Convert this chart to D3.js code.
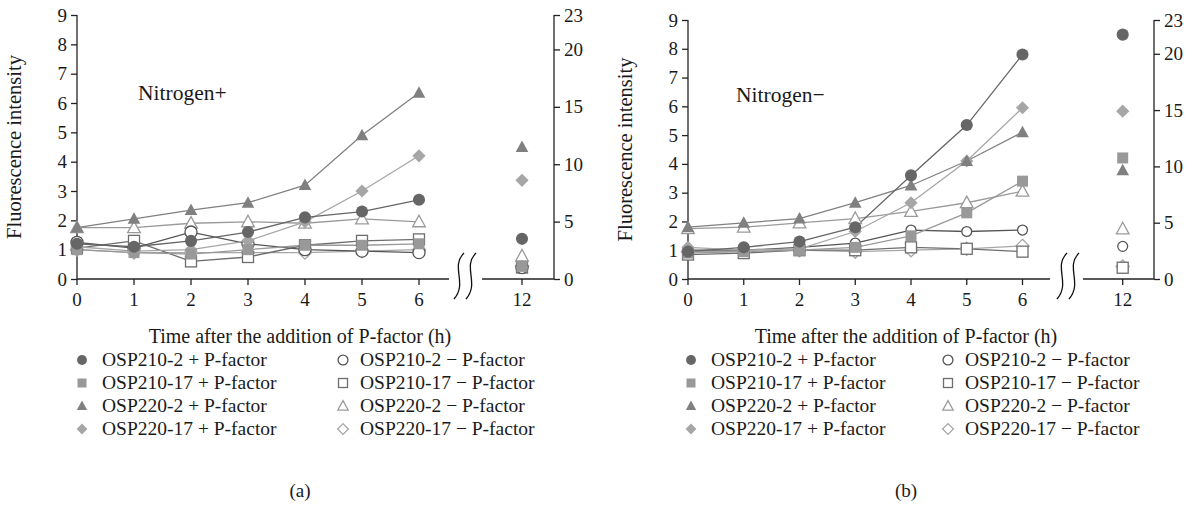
<!DOCTYPE html>
<html><head><meta charset="utf-8">
<script src="https://cdn.jsdelivr.net/npm/d3@7"></script>
<style>
body{margin:0;background:#fff;}
svg text{font-family:"Liberation Serif","DejaVu Serif",serif;fill:#1a1a1a;}
</style></head>
<body><svg id="c" width="1201" height="507"></svg>
<script>
// ---------- data ----------
const times = [0,1,2,3,4,5,6];
const lateTime = 12;
const leftTicks = [0,1,2,3,4,5,6,7,8,9];
const rightTicks = [0,5,10,15,20,23];
const xTickLabels = ["0","1","2","3","4","5","6","12"];
const seriesNames = ["OSP210-2 + P-factor","OSP210-17 + P-factor","OSP220-2 + P-factor","OSP220-17 + P-factor",
  "OSP210-2 \u2212 P-factor","OSP210-17 \u2212 P-factor","OSP220-2 \u2212 P-factor","OSP220-17 \u2212 P-factor"];
// Nitrogen+ (a)
const a_210_2_plus   = [1.2, 1.1, 1.3, 1.6, 2.1, 2.3, 2.7];
const a_210_17_plus  = [1.0, 0.9, 0.85, 1.0, 1.15, 1.15, 1.2];
const a_220_2_plus   = [1.75, 2.05, 2.35, 2.6, 3.2, 4.9, 6.35];
const a_220_17_plus  = [1.1, 0.95, 1.0, 1.3, 1.95, 3.0, 4.2];
const a_210_2_minus  = [1.25, 1.05, 1.6, 1.2, 1.0, 0.95, 0.9];
const a_210_17_minus = [1.05, 1.3, 0.6, 0.75, 1.15, 1.3, 1.35];
const a_220_2_minus  = [1.75, 1.75, 1.9, 1.95, 1.9, 2.05, 1.95];
const a_220_17_minus = [1.0, 0.9, 0.9, 0.9, 0.9, 0.95, 1.0];
const a_late = [3.5, 1.1, 11.5, 8.6, 1.0, 1.0, 2.0, 1.1];
// Nitrogen- (b)
const b_210_2_plus   = [0.95, 1.1, 1.3, 1.8, 3.6, 5.35, 7.8];
const b_210_17_plus  = [0.9, 0.95, 1.0, 1.1, 1.5, 2.3, 3.4];
const b_220_2_plus   = [1.8, 1.95, 2.1, 2.65, 3.25, 4.1, 5.1];
const b_220_17_plus  = [1.1, 1.0, 1.05, 1.65, 2.65, 4.1, 5.95];
const b_210_2_minus  = [1.0, 1.0, 1.1, 1.25, 1.7, 1.65, 1.7];
const b_210_17_minus = [0.85, 0.9, 1.0, 1.0, 1.1, 1.05, 0.95];
const b_220_2_minus  = [1.75, 1.8, 1.95, 2.1, 2.35, 2.65, 3.05];
const b_220_17_minus = [0.95, 0.95, 1.0, 0.95, 1.0, 1.05, 1.15];
const b_late = [21.7, 10.75, 9.65, 14.9, 2.9, 1.0, 4.45, 1.1];

// ---------- styles ----------
const styles = [
  {shape:"circle",  filled:true,  color:"#666666"},
  {shape:"square",  filled:true,  color:"#999999"},
  {shape:"triangle",filled:true,  color:"#808080"},
  {shape:"diamond", filled:true,  color:"#a6a6a6"},
  {shape:"circle",  filled:false, color:"#555555"},
  {shape:"square",  filled:false, color:"#6e6e6e"},
  {shape:"triangle",filled:false, color:"#9a9a9a"},
  {shape:"diamond", filled:false, color:"#a6a6a6"}
];

const svg = d3.select("#c");

function marker(g, st, x, y, s){
  let el;
  if(st.shape==="circle"){
    el = g.append("circle").attr("cx",x).attr("cy",y).attr("r",s*0.55);
  } else if(st.shape==="square"){
    el = g.append("rect").attr("x",x-s*0.5).attr("y",y-s*0.5).attr("width",s).attr("height",s);
  } else if(st.shape==="triangle"){
    const h=s*1.0, w=s*1.15;
    el = g.append("path").attr("d",`M${x},${y-h*0.6}L${x+w/2},${y+h*0.45}L${x-w/2},${y+h*0.45}Z`);
  } else {
    const r=s*0.6;
    el = g.append("path").attr("d",`M${x},${y-r}L${x+r},${y}L${x},${y+r}L${x-r},${y}Z`);
  }
  if(st.filled) el.attr("fill",st.color).attr("stroke","none");
  else el.attr("fill","#fff").attr("stroke",st.color).attr("stroke-width",1.3);
}

function drawPanel(p){
  const g = svg.append("g");
  const x = d3.scaleLinear().domain([0,6,12]).range([p.x0, p.x6, p.x12]);
  const yL = d3.scaleLinear().domain([0,9]).range([p.yb, p.yt]);
  const yR = d3.scaleLinear().domain([0,23]).range([p.yb, p.yt]);
  const axisColor="#222";
  const la = g.append("g").attr("transform",`translate(${p.x0},0)`)
    .call(d3.axisLeft(yL).tickValues(leftTicks).tickSize(6).tickPadding(4).tickFormat(d3.format("d")));
  const ra = g.append("g").attr("transform",`translate(${p.xr},0)`)
    .call(d3.axisRight(yR).tickValues(rightTicks).tickSize(6).tickPadding(4).tickFormat(d3.format("d")));
  [la,ra].forEach(a=>{
    a.select(".domain").attr("stroke",axisColor).attr("stroke-width",1.3).attr("d",`M0,${p.yb}V${p.yt}`);
    a.selectAll(".tick line").attr("stroke",axisColor).attr("stroke-width",1.3);
    a.selectAll("text").attr("font-size",19).attr("fill","#1a1a1a");
  });
  g.append("line").attr("x1",p.x0).attr("x2",p.segEnd).attr("y1",p.yb).attr("y2",p.yb).attr("stroke",axisColor).attr("stroke-width",1.3);
  g.append("line").attr("x1",p.segStart).attr("x2",p.xr).attr("y1",p.yb).attr("y2",p.yb).attr("stroke",axisColor).attr("stroke-width",1.3);
  const allT = times.concat([lateTime]);
  allT.forEach((t,i)=>{
    g.append("line").attr("x1",x(t)).attr("x2",x(t)).attr("y1",p.yb).attr("y2",p.yb+6).attr("stroke",axisColor).attr("stroke-width",1.3);
    g.append("text").attr("x",x(t)).attr("y",p.yb+27).attr("text-anchor","middle").attr("font-size",19).text(xTickLabels[i]);
  });
  [p.brk-6, p.brk+6].forEach(cx=>{
    const top=p.yb-26, bot=p.yb+20;
    g.append("path").attr("d",`M${cx+5},${top} C${cx-9},${top+14} ${cx+9},${bot-16} ${cx-5},${bot}`)
      .attr("fill","none").attr("stroke","#111").attr("stroke-width",1.3);
  });
  const line = d3.line().x((d,i)=>x(times[i])).y(d=>yL(d));
  const order=[7,6,5,4,3,1,2,0];
  order.forEach(k=>{
    g.append("path").datum(p.series[k]).attr("d",line).attr("fill","none").attr("stroke",styles[k].color).attr("stroke-width",1.3);
  });
  const sz = k => styles[k].filled?11:(styles[k].shape==="circle"?p.openCircle:11);
  order.forEach(k=>{
    p.series[k].forEach((v,i)=>marker(g,styles[k],x(times[i]),yL(v), sz(k)));
  });
  order.forEach(k=>{
    marker(g,styles[k],x(lateTime),yR(p.late[k]), sz(k));
  });
  g.append("text").attr("x",p.condX).attr("y",p.condY).attr("font-size",21.5).text(p.cond);
  g.append("text").attr("transform",`translate(${p.x0-56},${(p.yt+p.yb)/2}) rotate(-90)`).attr("text-anchor","middle").attr("font-size",20.5).text("Fluorescence intensity");
  g.append("text").attr("x",p.labelX).attr("y",343).attr("text-anchor","middle").attr("font-size",20).text("Time after the addition of P-factor (h)");
  const rows=[366,389,412,435];
  for(let k=0;k<8;k++){
    const col = k<4?0:1, r=k%4;
    const mx = col===0?p.legX1:p.legX2;
    marker(g,styles[k],mx,rows[r]-6,9);
    g.append("text").attr("x",mx+(col===0?20:17)).attr("y",rows[r]).attr("font-size",19.5).text(seriesNames[k]);
  }
  g.append("text").attr("x",p.labelX).attr("y",497).attr("text-anchor","middle").attr("font-size",19).text(p.tag);
}

drawPanel({x0:77,x6:419,x12:522,xr:554,yt:15,yb:279,segEnd:449,segStart:482,brk:465,
  series:[a_210_2_plus,a_210_17_plus,a_220_2_plus,a_220_17_plus,a_210_2_minus,a_210_17_minus,a_220_2_minus,a_220_17_minus],
  late:a_late, cond:"Nitrogen+", condX:138, condY:100, labelX:300, legX1:82, legX2:343, tag:"(a)", openCircle:11});
drawPanel({x0:688,x6:1022.5,x12:1122.7,xr:1154,yt:20,yb:279,segEnd:1050,segStart:1083,brk:1068,
  series:[b_210_2_plus,b_210_17_plus,b_220_2_plus,b_220_17_plus,b_210_2_minus,b_210_17_minus,b_220_2_minus,b_220_17_minus],
  late:b_late, cond:"Nitrogen\u2212", condX:736, condY:102, labelX:906, legX1:691, legX2:948, tag:"(b)", openCircle:9});
</script></body></html>
